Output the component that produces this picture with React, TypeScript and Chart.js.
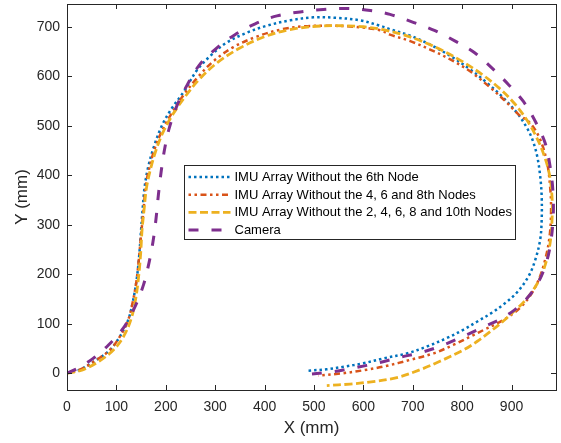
import { useEffect, useRef } from "react";
import { Chart, registerables } from "chart.js";

Chart.register(...registerables);

const seriesNames = [
  "IMU Array Without the 6th Node",
  "IMU Array Without the 4, 6 and 8th Nodes",
  "IMU Array Without the 2, 4, 6, 8 and 10th Nodes",
  "Camera",
];

const node6X = [0, 26, 60, 87, 107, 124, 134, 141, 146, 150, 153, 157, 164, 176, 192, 212, 236, 263, 290, 323, 364, 404, 452, 499, 546, 593, 634, 654, 695, 735, 776, 816, 850, 884, 911, 931, 943, 952, 958, 961, 961, 958, 948, 934, 910, 885, 860, 830, 803, 769, 729, 688, 641, 600, 560, 526, 489];
const node6Y = [0, 7, 27, 47, 74, 108, 148, 189, 236, 290, 330, 375, 415, 458, 500, 535, 568, 612, 641, 668, 688, 702, 713, 719, 718, 713, 702, 695, 682, 664, 641, 614, 587, 556, 526, 496, 470, 438, 398, 357, 310, 270, 229, 195, 162, 140, 122, 104, 88, 71, 54, 40, 30, 20, 13, 8, 5];

const node468X = [0, 26, 60, 87, 107, 124, 134, 141, 146, 151, 155, 159, 166, 178, 195, 215, 236, 263, 296, 337, 384, 431, 480, 530, 580, 634, 654, 695, 735, 776, 816, 850, 884, 914, 938, 958, 972, 978, 980, 977, 968, 955, 938, 918, 897, 870, 843, 823, 782, 742, 695, 648, 607, 560, 509];
const node468Y = [0, 7, 27, 47, 74, 108, 148, 189, 236, 290, 330, 375, 412, 455, 495, 530, 562, 596, 630, 659, 680, 694, 701, 702, 700, 693, 684, 671, 654, 634, 610, 583, 553, 523, 505, 472, 425, 378, 330, 276, 229, 189, 157, 133, 116, 100, 87, 77, 57, 40, 27, 15, 7, 0, -5];

const node246810X = [0, 30, 65, 95, 115, 130, 139, 145, 149, 152, 156, 161, 169, 180, 195, 215, 240, 268, 305, 350, 400, 450, 505, 560, 600, 640, 680, 720, 760, 800, 840, 875, 905, 930, 950, 966, 977, 982, 982, 979, 972, 960, 944, 926, 905, 884, 857, 830, 803, 755, 715, 668, 620, 573, 526];
const node246810Y = [0, 6, 24, 48, 75, 110, 150, 195, 240, 290, 330, 375, 412, 450, 488, 524, 560, 594, 628, 657, 680, 694, 701, 702, 700, 694, 684, 670, 652, 630, 604, 576, 546, 513, 478, 440, 400, 355, 310, 270, 232, 197, 168, 145, 125, 106, 84, 64, 47, 24, 7, -9, -17, -22, -25];

const cameraX = [0, 20, 53, 84, 114, 138, 155, 166, 174, 180, 185, 191, 198, 207, 222, 242, 269, 303, 340, 381, 425, 472, 519, 567, 614, 654, 701, 745, 786, 826, 860, 894, 924, 948, 968, 978, 984, 984, 978, 968, 951, 930, 905, 875, 845, 808, 762, 718, 674, 631, 583, 539, 482];
const cameraY = [0, 9, 30, 57, 91, 135, 179, 223, 265, 310, 360, 410, 455, 495, 539, 580, 624, 657, 684, 706, 722, 730, 735, 737, 733, 725, 709, 692, 671, 647, 617, 583, 549, 509, 465, 418, 364, 310, 256, 216, 178, 150, 127, 108, 94, 77, 57, 42, 32, 21, 11, 3, -3];

const xTicks = [0, 100, 200, 300, 400, 500, 600, 700, 800, 900];
const yTicks = [0, 100, 200, 300, 400, 500, 600, 700];

const FONT = "'Liberation Sans', Arial, Helvetica, sans-serif";
const AXIS_COLOR = "#262626";

const toPts = (xs: number[], ys: number[]) => xs.map((x, i) => ({ x, y: ys[i] }));

const boxPlugin = {
  id: "matlabBox",
  afterDraw(chart: any) {
    const { ctx, chartArea } = chart;
    const { left, right, top, bottom } = chartArea;
    const xs = chart.scales.x;
    const ys = chart.scales.y;
    ctx.save();
    ctx.strokeStyle = AXIS_COLOR;
    ctx.lineWidth = 1;
    ctx.setLineDash([]);
    ctx.strokeRect(Math.round(left) + 0.5, Math.round(top) + 0.5, Math.round(right - left), Math.round(bottom - top));
    const tl = 5;
    ctx.beginPath();
    xTicks.forEach((v) => {
      const px = Math.round(xs.getPixelForValue(v)) + 0.5;
      ctx.moveTo(px, bottom);
      ctx.lineTo(px, bottom - tl);
      ctx.moveTo(px, top);
      ctx.lineTo(px, top + tl);
    });
    yTicks.forEach((v) => {
      const py = Math.round(ys.getPixelForValue(v)) + 0.5;
      ctx.moveTo(left, py);
      ctx.lineTo(left + tl, py);
      ctx.moveTo(right, py);
      ctx.lineTo(right - tl, py);
    });
    ctx.stroke();

    // legend box
    const lx = Math.round(left + 117) + 0.5;
    const ly = Math.round(top + 161) + 0.5;
    const lw = 331;
    const lh = 74;
    ctx.fillStyle = "#ffffff";
    ctx.fillRect(lx, ly, lw, lh);
    ctx.strokeStyle = AXIS_COLOR;
    ctx.lineWidth = 1;
    ctx.strokeRect(lx, ly, lw, lh);
    ctx.font = `13px ${FONT}`;
    ctx.textBaseline = "middle";
    ctx.textAlign = "left";
    chart.data.datasets.forEach((ds: any, i: number) => {
      const cy = ly + 11.5 + i * 17.7;
      ctx.strokeStyle = ds.borderColor;
      ctx.lineWidth = ds.borderWidth;
      ctx.setLineDash(ds.borderDash || []);
      ctx.beginPath();
      ctx.moveTo(lx + 4, cy);
      ctx.lineTo(lx + 46, cy);
      ctx.stroke();
      ctx.setLineDash([]);
      ctx.fillStyle = "#000000";
      ctx.fillText(ds.label, lx + 50, cy + 0.5);
    });
    ctx.restore();
  },
};

export default function App() {
  const ref = useRef<HTMLCanvasElement | null>(null);
  useEffect(() => {
    if (!ref.current) return;
    const common = { showLine: true, pointRadius: 0, pointHoverRadius: 0, fill: false, tension: 0.35 };
    const chart = new Chart(ref.current, {
      type: "scatter",
      data: {
        datasets: [
          { ...common, label: seriesNames[0], data: toPts(node6X, node6Y), borderColor: "#0072BD", borderWidth: 2.5, borderDash: [2.5, 3], order: 4 },
          { ...common, label: seriesNames[1], data: toPts(node468X, node468Y), borderColor: "#D95319", borderWidth: 2.5, borderDash: [2.5, 3.5, 2.5, 3.5, 6, 3.5], order: 3 },
          { ...common, label: seriesNames[2], data: toPts(node246810X, node246810Y), borderColor: "#EDB120", borderWidth: 2.8, borderDash: [8, 3.5], order: 2 },
          { ...common, label: seriesNames[3], data: toPts(cameraX, cameraY), borderColor: "#7E2F8E", borderWidth: 3, borderDash: [10, 13], order: 1 },
        ] as any,
      },
      options: {
        responsive: false,
        animation: false,
        events: [],
        layout: { padding: { left: 0, right: 5, top: 4, bottom: 0 } },
        plugins: { legend: { display: false }, tooltip: { enabled: false }, title: { display: false } },
        scales: {
          x: {
            type: "linear",
            min: 0,
            max: 990,
            grid: { display: false, drawTicks: false },
            border: { display: false },
            afterBuildTicks: (s: any) => { s.ticks = xTicks.map((v) => ({ value: v })); },
            afterFit: (s: any) => { s.height = 53; s.paddingLeft = 0; s.paddingRight = 0; },
            ticks: { color: AXIS_COLOR, font: { family: FONT, size: 14 }, padding: 9, maxRotation: 0, autoSkip: false },
            title: { display: true, text: "X (mm)", color: AXIS_COLOR, font: { family: FONT, size: 17 }, padding: { top: 0, bottom: 4 } },
          },
          y: {
            type: "linear",
            min: -34,
            max: 746,
            grid: { display: false, drawTicks: false },
            border: { display: false },
            afterBuildTicks: (s: any) => { s.ticks = yTicks.map((v) => ({ value: v })); },
            afterFit: (s: any) => { s.width = 67; s.paddingTop = 0; s.paddingBottom = 0; },
            ticks: { color: AXIS_COLOR, font: { family: FONT, size: 14 }, padding: 7, autoSkip: false },
            title: { display: true, text: "Y (mm)", color: AXIS_COLOR, font: { family: FONT, size: 17 }, padding: { top: 12, bottom: 0 } },
          },
        },
      } as any,
      plugins: [boxPlugin],
    });
    return () => chart.destroy();
  }, []);
  return (
    <div style={{ position: "absolute", left: 0, top: 0, width: 561, height: 443, background: "#fff" }}>
      <canvas ref={ref} width={561} height={443} style={{ display: "block" }} />
    </div>
  );
}
